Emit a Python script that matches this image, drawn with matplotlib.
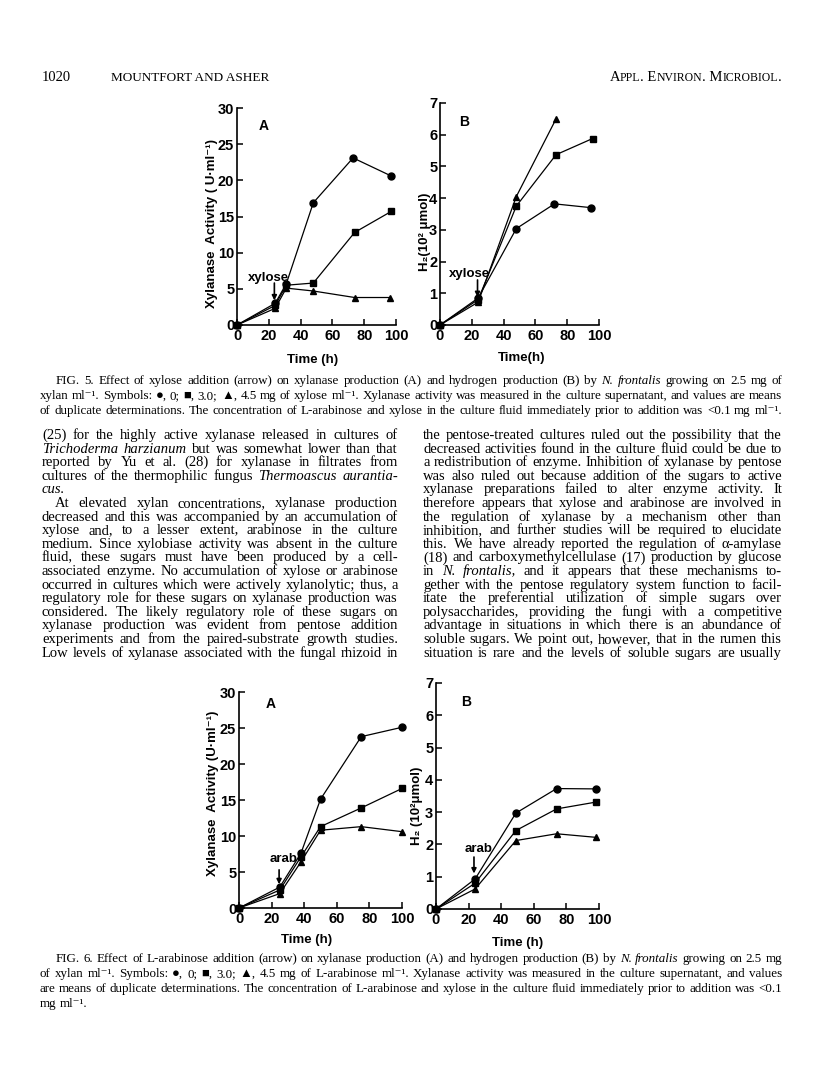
import matplotlib
matplotlib.use('Agg')
import matplotlib.pyplot as plt

#- Data (Mountfort & Asher, Figs 5 and 6)
# Fig 5A xylanase activity (U/ml) after xylose addition
f5a_t_circ = [0, 24, 31, 48, 73, 97]
f5a_circ = [0, 3.0, 5.7, 16.9, 23.1, 20.6]
f5a_t_sq = [0, 24, 31, 48, 74, 97]
f5a_sq = [0, 2.7, 5.5, 5.8, 12.8, 15.7]
f5a_t_tri = [0, 24, 31, 48, 74, 96]
f5a_tri = [0, 2.3, 5.1, 4.7, 3.8, 3.8]
# Fig 5B hydrogen (10^2 umol)
f5b_t_circ = [0, 24, 48, 72, 95]
f5b_circ = [0, 0.85, 3.04, 3.82, 3.7]
f5b_t_sq = [0, 24, 48, 73, 96]
f5b_sq = [0, 0.8, 3.75, 5.37, 5.88]
f5b_t_tri = [0, 24, 48, 73]
f5b_tri = [0, 0.72, 4.05, 6.5]
# Fig 6A xylanase activity after arabinose addition
f6a_t = [0, 25, 38, 50, 75, 100]
f6a_circ = [0, 2.9, 7.6, 15.1, 23.8, 25.1]
f6a_sq = [0, 2.5, 7.1, 11.3, 13.9, 16.6]
f6a_tri = [0, 2.0, 6.4, 10.8, 11.3, 10.6]
# Fig 6B hydrogen
f6b_t = [0, 24, 49, 74, 98]
f6b_circ = [0, 0.93, 2.97, 3.73, 3.72]
f6b_sq = [0, 0.8, 2.43, 3.1, 3.31]
f6b_tri = [0, 0.62, 2.12, 2.33, 2.22]

xticks = [0, 20, 40, 60, 80, 100]
ticks_a = [0, 5, 10, 15, 20, 25, 30]
ticks_b = [0, 1, 2, 3, 4, 5, 6, 7]

left_col = [
    "(25) for the highly active xylanase released in cultures of",
    "*Trichoderma *harzianum but was somewhat lower than that",
    "reported by Yu et al. (28) for xylanase in filtrates from",
    "cultures of the thermophilic fungus *Thermoascus *aurantia-",
    "*cus.",
    "At elevated xylan concentrations, xylanase production",
    "decreased and this was accompanied by an accumulation of",
    "xylose and, to a lesser extent, arabinose in the culture",
    "medium. Since xylobiase activity was absent in the culture",
    "fluid, these sugars must have been produced by a cell-",
    "associated enzyme. No accumulation of xylose or arabinose",
    "occurred in cultures which were actively xylanolytic; thus, a",
    "regulatory role for these sugars on xylanase production was",
    "considered. The likely regulatory role of these sugars on",
    "xylanase production was evident from pentose addition",
    "experiments and from the paired-substrate growth studies.",
    "Low levels of xylanase associated with the fungal rhizoid in",
]
right_col = [
    "the pentose-treated cultures ruled out the possibility that the",
    "decreased activities found in the culture fluid could be due to",
    "a redistribution of enzyme. Inhibition of xylanase by pentose",
    "was also ruled out because addition of the sugars to active",
    "xylanase preparations failed to alter enzyme activity. It",
    "therefore appears that xylose and arabinose are involved in",
    "the regulation of xylanase by a mechanism other than",
    "inhibition, and further studies will be required to elucidate",
    "this. We have already reported the regulation of \u03b1-amylase",
    "(18) and carboxymethylcellulase (17) production by glucose",
    "in *N. *frontalis, and it appears that these mechanisms to-",
    "gether with the pentose regulatory system function to facil-",
    "itate the preferential utilization of simple sugars over",
    "polysaccharides, providing the fungi with a competitive",
    "advantage in situations in which there is an abundance of",
    "soluble sugars. We point out, however, that in the rumen this",
    "situation is rare and the levels of soluble sugars are usually",
]
cap5 = [
    "FIG. 5. Effect of xylose addition (arrow) on xylanase production (A) and hydrogen production (B) by *N. *frontalis growing on 2.5 mg of",
    "xylan ml\u207b\u00b9. Symbols: \u25cf, 0; \u25a0, 3.0; \u25b2, 4.5 mg of xylose ml\u207b\u00b9. Xylanase activity was measured in the culture supernatant, and values are means",
    "of duplicate determinations. The concentration of L-arabinose and xylose in the culture fluid immediately prior to addition was <0.1 mg ml\u207b\u00b9.",
]
cap6 = [
    "FIG. 6. Effect of L-arabinose addition (arrow) on xylanase production (A) and hydrogen production (B) by *N. *frontalis growing on 2.5 mg",
    "of xylan ml\u207b\u00b9. Symbols: \u25cf, 0; \u25a0, 3.0; \u25b2, 4.5 mg of L-arabinose ml\u207b\u00b9. Xylanase activity was measured in the culture supernatant, and values",
    "are means of duplicate determinations. The concentration of L-arabinose and xylose in the culture fluid immediately prior to addition was <0.1",
    "mg ml\u207b\u00b9.",
]

W, H = 816, 1078
SERIF = ['Liberation Serif', 'DejaVu Serif', 'DejaVu Sans']
SANS = ['Liberation Sans', 'DejaVu Sans']

fig = plt.figure(figsize=(W / 100, H / 100), dpi=100)
fig.patch.set_facecolor('white')
rend = fig.canvas.get_renderer()


def px(x, y):
    return x / W, 1 - y / H


def make_words(line, x0, y, size):
    objs = []
    for w in line.split():
        ital = w.startswith('*')
        t = fig.text(*px(x0, y), w.lstrip('*'), fontsize=size, family=SERIF,
                     style='italic' if ital else 'normal', va='baseline', ha='left')
        objs.append(t)
    return objs


def natural_width(line, size):
    objs = make_words(line, 0, 0, size)
    ws = sum(t.get_window_extent(rend).width for t in objs)
    for t in objs:
        t.remove()
    return ws + (len(objs) - 1) * size * 100 / 72 * 0.22


def put_line(line, x0, x1, y, size, justify=True, indent=0):
    # place word by word so the line can be justified like the print
    objs = make_words(line, x0, y, size)
    ws = [t.get_window_extent(rend).width for t in objs]
    space = size * 100 / 72 * 0.25
    if justify and len(objs) > 1:
        space = (x1 - x0 - indent - sum(ws)) / (len(objs) - 1)
    x = x0 + indent
    for t, w in zip(objs, ws):
        t.set_position(px(x, y))
        x += w + space


def put_pieces(pieces, x, y, ha='left'):
    # pieces: (text, size) for small caps running heads
    objs = [fig.text(*px(x, y), s, fontsize=sz, family=SERIF, va='baseline') for s, sz in pieces]
    ws = [t.get_window_extent(rend).width for t in objs]
    if ha == 'right':
        x = x - sum(ws)
    for t, w in zip(objs, ws):
        t.set_position(px(x, y))
        x += w


def make_axes(x0, x1, y0, y1, ymax, yticks):
    ax = fig.add_axes([x0 / W, 1 - y0 / H, (x1 - x0) / W, (y0 - y1) / H])
    ax.set_xlim(0, 100)
    ax.set_ylim(0, ymax)
    ax.set_xticks(xticks)
    ax.set_yticks(yticks)
    for s in ['top', 'right']:
        ax.spines[s].set_visible(False)
    for s in ['left', 'bottom']:
        ax.spines[s].set_linewidth(1.2)
    ax.tick_params(direction='in', length=4, width=1.1, pad=3)
    ax.tick_params(axis='y', pad=2)
    for lab in ax.get_xticklabels() + ax.get_yticklabels():
        lab.set_family(SANS)
        lab.set_fontweight('bold')
        lab.set_fontsize(10.5)
    ax.patch.set_alpha(0)
    return ax


def series(ax, t, v, m, ms):
    ax.plot(t, v, color='k', lw=0.9, marker=m, ms=ms, mfc='k', mec='k', clip_on=False, zorder=3)


def arrow(ax, label, x, ytop, ybot, lx, ly):
    ax.text(lx, ly, label, ha='center', va='center', family=SANS, fontweight='bold', fontsize=9.5)
    ax.annotate('', xy=(x, ybot), xytext=(x, ytop),
                arrowprops=dict(arrowstyle='-|>', color='k', lw=1.2, mutation_scale=7,
                                shrinkA=0, shrinkB=0))


#- Running head
put_pieces([('1020', 10.5)], 42, 81)
put_pieces([('MOUNTFORT AND ASHER', 9.5)], 269, 81, ha='right')
put_pieces([('A', 10.5), ('PPL', 8.5), ('. E', 10.5), ('NVIRON', 8.5), ('. M', 10.5), ('ICROBIOL', 8.5), ('.', 10.5)],
           782, 81, ha='right')

#- Fig 5A
ax = make_axes(237, 396, 325, 108, 30, ticks_a)
series(ax, f5a_t_circ, f5a_circ, 'o', 5)
series(ax, f5a_t_sq, f5a_sq, 's', 4.3)
series(ax, f5a_t_tri, f5a_tri, '^', 4.3)
arrow(ax, 'xylose', 23.5, 5.8, 3.4, 19.5, 6.5)
ax.text(17, 27.5, 'A', family=SANS, fontweight='bold', fontsize=10, ha='center', va='center')
fig.text(*px(212, 223), 'Xylanase  Activity ( U\u00b7ml\u207b\u00b9)', rotation=90, ha='center', va='center',
         family=SANS, fontweight='bold', fontsize=9.5)
fig.text(*px(313, 360), 'Time (h)', ha='center', va='center', family=SANS, fontweight='bold', fontsize=9.5)

#- Fig 5B
ax = make_axes(440, 599, 325, 103, 7, ticks_b)
series(ax, f5b_t_circ, f5b_circ, 'o', 5)
series(ax, f5b_t_sq, f5b_sq, 's', 4.3)
series(ax, f5b_t_tri, f5b_tri, '^', 4.3)
arrow(ax, 'xylose', 23.6, 1.42, 0.88, 18.8, 1.6)
ax.text(15, 6.4, 'B', family=SANS, fontweight='bold', fontsize=10, ha='center', va='center')
fig.text(*px(425, 232), 'H\u2082(10\u00b2 \u03bcmol)', rotation=90, ha='center', va='center',
         family=SANS, fontweight='bold', fontsize=9.5)
fig.text(*px(522, 358), 'Time(h)', ha='center', va='center', family=SANS, fontweight='bold', fontsize=9.5)

#- Captions: largest size at which the longest line still fits the measure
cap_size = 10 * 734 / max(natural_width(l, 10) for l in cap5 + cap6)

for i, line in enumerate(cap5):
    put_line(line, 40, 782, 384 + i * 15, cap_size, indent=16 if i == 0 else 0)

#- Body text, two justified columns
body_size = min(10.6, 10 * 354 / max(natural_width(l, 10) for l in left_col + right_col))
for i, line in enumerate(left_col):
    put_line(line, 42, 398, 439 + i * 13.6, body_size, justify=(i != 4), indent=13 if i == 5 else 0)
for i, line in enumerate(right_col):
    put_line(line, 423, 782, 439 + i * 13.6, body_size)

#- Fig 6A
ax = make_axes(239, 402, 908, 692, 30, ticks_a)
series(ax, f6a_t, f6a_circ, 'o', 5)
series(ax, f6a_t, f6a_sq, 's', 4.3)
series(ax, f6a_t, f6a_tri, '^', 4.3)
arrow(ax, 'arab', 24.6, 5.3, 3.3, 27.5, 6.8)
ax.text(19.3, 28.3, 'A', family=SANS, fontweight='bold', fontsize=10, ha='center', va='center')
fig.text(*px(213, 793), 'Xylanase  Activity (U\u00b7ml\u207b\u00b9)', rotation=90, ha='center', va='center',
         family=SANS, fontweight='bold', fontsize=9.5)
fig.text(*px(307, 940), 'Time (h)', ha='center', va='center', family=SANS, fontweight='bold', fontsize=9.5)

#- Fig 6B
ax = make_axes(436, 599, 909, 683, 7, ticks_b)
series(ax, f6b_t, f6b_circ, 'o', 5)
series(ax, f6b_t, f6b_sq, 's', 4.3)
series(ax, f6b_t, f6b_tri, '^', 4.3)
arrow(ax, 'arab', 23.3, 1.61, 1.1, 25.9, 1.86)
ax.text(18.4, 6.4, 'B', family=SANS, fontweight='bold', fontsize=10, ha='center', va='center')
fig.text(*px(417, 806), 'H\u2082 (10\u00b2\u03bcmol)', rotation=90, ha='center', va='center',
         family=SANS, fontweight='bold', fontsize=9.5)
fig.text(*px(518, 943), 'Time (h)', ha='center', va='center', family=SANS, fontweight='bold', fontsize=9.5)

for i, line in enumerate(cap6):
    put_line(line, 40, 782, 962 + i * 15, cap_size, justify=(i != 3), indent=16 if i == 0 else 0)

fig.savefig('out.png', dpi=100, facecolor='white')
plt.close(fig)
